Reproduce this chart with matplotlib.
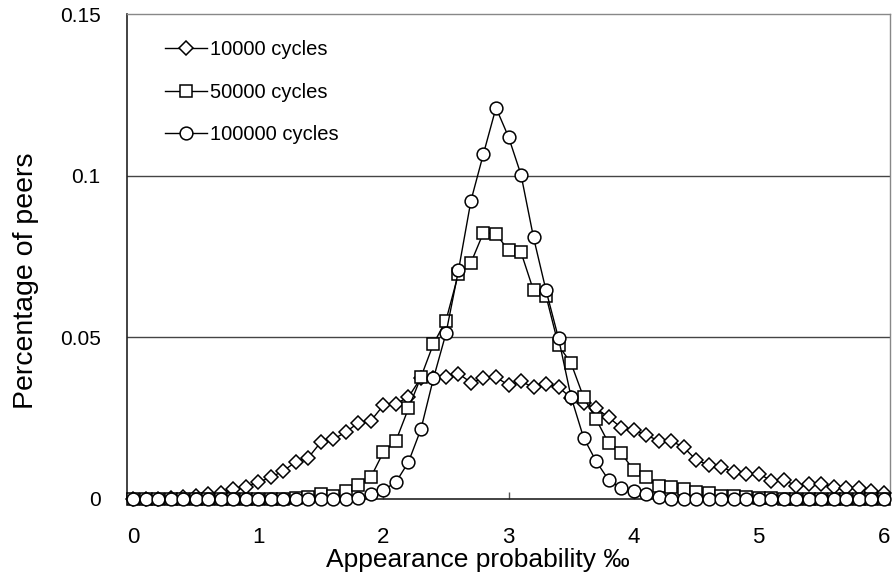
import numpy as np
import matplotlib
matplotlib.use("Agg")
import matplotlib.pyplot as plt

# Appearance probability (per mille), one point every 0.1
probability = np.round(np.linspace(0.0, 6.0, 61), 1)

cycles_10000 = [
    0.0000, 0.0000, 0.0001, 0.0002, 0.0005, 0.0010, 0.0015, 0.0020, 0.0030, 0.0037,
    0.0052, 0.0067, 0.0087, 0.0115, 0.0128, 0.0176, 0.0185, 0.0207, 0.0236, 0.0242,
    0.0290, 0.0295, 0.0315, 0.0375, 0.0373, 0.0378, 0.0388, 0.0360, 0.0373, 0.0377,
    0.0352, 0.0364, 0.0345, 0.0355, 0.0346, 0.0313, 0.0296, 0.0280, 0.0253, 0.0221,
    0.0213, 0.0198, 0.0180, 0.0180, 0.0160, 0.0121, 0.0105, 0.0100, 0.0082, 0.0077,
    0.0078, 0.0057, 0.0059, 0.0041, 0.0045, 0.0047, 0.0036, 0.0034, 0.0035, 0.0024,
    0.0018,
]

cycles_50000 = [
    0.0000, 0.0000, 0.0000, 0.0000, 0.0000, 0.0000, 0.0000, 0.0000, 0.0000, 0.0000,
    0.0000, 0.0000, 0.0000, 0.0002, 0.0005, 0.0015, 0.0008, 0.0025, 0.0043, 0.0068,
    0.0145, 0.0180, 0.0280, 0.0377, 0.0480, 0.0552, 0.0697, 0.0731, 0.0824, 0.0820,
    0.0769, 0.0763, 0.0645, 0.0628, 0.0475, 0.0420, 0.0315, 0.0247, 0.0173, 0.0142,
    0.0090, 0.0068, 0.0040, 0.0037, 0.0030, 0.0022, 0.0020, 0.0010, 0.0008, 0.0005,
    0.0003, 0.0002, 0.0000, 0.0000, 0.0000, 0.0000, 0.0000, 0.0000, 0.0000, 0.0000,
    0.0000,
]

cycles_100000 = [
    0.0000, 0.0000, 0.0000, 0.0000, 0.0000, 0.0000, 0.0000, 0.0000, 0.0000, 0.0000,
    0.0000, 0.0000, 0.0000, 0.0000, 0.0000, 0.0000, 0.0000, 0.0000, 0.0003, 0.0015,
    0.0028, 0.0052, 0.0114, 0.0216, 0.0373, 0.0512, 0.0707, 0.0923, 0.1068, 0.1210,
    0.1120, 0.1003, 0.0809, 0.0645, 0.0497, 0.0316, 0.0190, 0.0117, 0.0059, 0.0034,
    0.0025, 0.0015, 0.0006, 0.0000, 0.0000, 0.0000, 0.0000, 0.0000, 0.0000, 0.0000,
    0.0000, 0.0000, 0.0000, 0.0000, 0.0000, 0.0000, 0.0000, 0.0000, 0.0000, 0.0000,
    0.0000,
]

series_labels = ["10000 cycles", "50000 cycles", "100000 cycles"]
x_ticks = [0, 1, 2, 3, 4, 5, 6]
y_ticks = [0, 0.05, 0.1, 0.15]
y_tick_labels = ["0", "0.05", "0.1", "0.15"]

sans = ["Liberation Sans", "DejaVu Sans"]

fig = plt.figure(figsize=(8.95, 5.82), dpi=100)
W, H = 895, 582
left, right, top, bottom = 127, 890, 14, 499
ax = fig.add_axes([left / W, 1 - bottom / H, (right - left) / W, (bottom - top) / H])

style = dict(color="black", linewidth=1.0, markerfacecolor="white",
             markeredgecolor="black", markeredgewidth=1.1, clip_on=False)
ax.plot(probability, cycles_10000, marker="D", markersize=7.3, label=series_labels[0], zorder=3, **style)
ax.plot(probability, cycles_50000, marker="s", markersize=8.2, label=series_labels[1], zorder=4, **style)
ax.plot(probability, cycles_100000, marker="o", markersize=9.2, label=series_labels[2], zorder=5, **style)

ax.set_xlim(-0.05, 6.05)
ax.set_ylim(0, 0.15)

ax.set_xticks(x_ticks)
ax.set_xticklabels([str(t) for t in x_ticks], family=sans, fontsize=16)
ax.set_yticks(y_ticks)
ax.set_yticklabels(y_tick_labels, family=sans, fontsize=15)
ax.tick_params(axis="x", direction="in", length=5, width=1, pad=20, color="#555555")
ax.tick_params(axis="y", length=0, pad=19)

for yv in (0.05, 0.1):
    ax.axhline(yv, color="#444444", linewidth=1.0, zorder=1)

for side in ("top", "right"):
    ax.spines[side].set_color("#888888")
    ax.spines[side].set_linewidth(1.0)
for side in ("left", "bottom"):
    ax.spines[side].set_color("#222222")
    ax.spines[side].set_linewidth(1.2)

ax.set_xlabel("Appearance probability ‰", family=sans, fontsize=19)
ax.xaxis.set_label_coords((478 - left) / (right - left), -0.100)
ax.set_ylabel("Percentage of peers", family=sans, fontsize=20.5)
ax.yaxis.set_label_coords(-0.115, (bottom - 281) / (bottom - top))

leg = ax.legend(loc="upper left", bbox_to_anchor=(0.039, 0.962), frameon=False,
                prop={"family": sans, "size": 14.5}, handlelength=2.1,
                handletextpad=0.15, labelspacing=1.15, borderaxespad=0)

fig.savefig("out.png", dpi=100)
